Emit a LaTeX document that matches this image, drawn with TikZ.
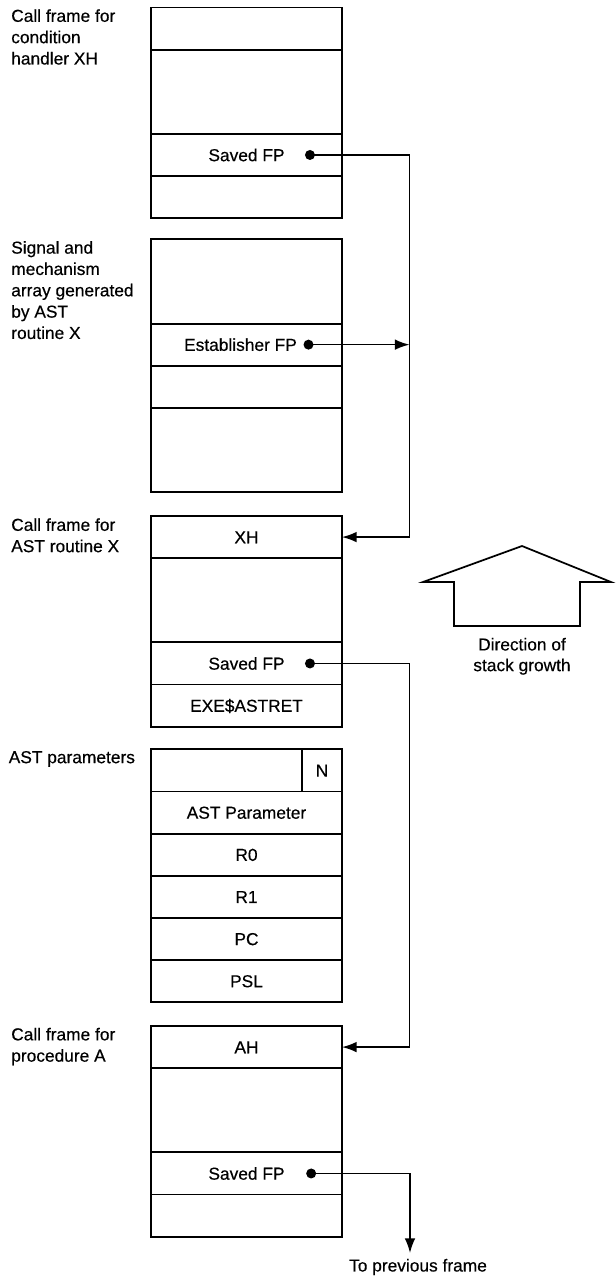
\documentclass[tikz,border=0pt]{standalone}
\usepackage{fontspec}
\setmainfont{Liberation Sans}[FakeBold=0.4]
\usetikzlibrary{positioning,arrows.meta}

\tikzset{
  cell/.style={draw, line width=1.4pt, minimum width=143.25pt, minimum height=31.6pt,
    inner sep=0pt, outer sep=0pt, text height=9.3pt, text depth=0pt,
    font=\fontsize{13}{16}\selectfont},
  tall/.style={cell, minimum height=63.2pt},
  note/.style={anchor=north west, align=left, inner sep=0pt, font=\fontsize{13}{16}\selectfont},
  fp/.style={circle, fill, inner sep=0pt, minimum size=7.5pt},
  link/.style={line width=1.2pt},
  tip/.style={-{Latex[length=11pt,width=8pt]}}
}

\begin{document}
\begin{tikzpicture}[x=0.75pt, y=-0.75pt]
    \useasboundingbox (0,0) rectangle (616,1278);
    \coordinate (rail) at (409.5,0);

    % call frame for XH
    \node[note] (lh) at (11,9) {Call frame for\\condition\\handler XH};
    \node[cell, anchor=north] (h1) at (246.5,7.5) {};
    \node[tall, below=0pt of h1] (h2) {};
    \node[cell, below=0pt of h2] (h3) {Saved FP};
    \node[cell, below=0pt of h3] (h4) {};
    \node[fp] (s1) at ([xshift=47.6pt]h3.center) {};

    % signal and mechanism array
    \node[note] (lm) at (11,240.8) {Signal and\\mechanism\\array generated\\by AST\\routine X};
    \node[tall, anchor=north] (m1) at (246.5,239.3) {};
    \node[cell, below=0pt of m1] (m2) {Establisher FP\hspace*{9pt}};
    \node[cell, below=0pt of m2] (m3) {};
    \node[tall, below=0pt of m3] (m4) {};
    \node[fp] (s2) at ([xshift=46.5pt]m2.center) {};

    % call frame for AST routine X
    \node[note] (lx) at (11,518) {Call frame for\\AST routine X};
    \node[cell, anchor=north] (x1) at (246.5,516) {XH};
    \node[tall, below=0pt of x1] (x2) {};
    \node[cell, below=0pt of x2] (x3) {Saved FP};
    \node[cell, below=0pt of x3] (x4) {EXE\$ASTRET};
    \node[fp] (s3) at ([xshift=47.6pt]x3.center) {};

    % AST parameters
    \node[note] (lp) at (8.5,750.8) {AST parameters};
    \node[cell, anchor=north] (p0) at (246.5,749.3) {};
    \node[cell, minimum width=30pt, anchor=north east] (n) at (p0.north east) {N};
    \foreach \t [count=\i, remember=\i as \j (initially 0)] in {AST Parameter, R0, R1, PC, PSL}
        \node[cell, below=0pt of p\j] (p\i) {\t};

    % call frame for procedure A
    \node[note] (la) at (11,1027.5) {Call frame for\\procedure A};
    \node[cell, anchor=north] (a1) at (246.5,1026) {AH};
    \node[tall, below=0pt of a1] (a2) {};
    \node[cell, below=0pt of a2] (a3) {Saved FP};
    \node[cell, below=0pt of a3] (a4) {};
    \node[fp] (s4) at ([xshift=48.5pt]a3.center) {};

    \draw[link, tip] (s1.center) -| (rail |- x1) -- (x1.east);
    \draw[link, tip] (s2.center) -- (s2 -| rail);
    \draw[link, tip] (s3.center) -| (rail |- a1) -- (a1.east);
    \coordinate (down) at (410,1253);
    \draw[link, tip] (s4.center) -| (down);
    \node[font=\fontsize{13}{16}\selectfont] (prev) at (418,1267) {To previous frame};

    \draw[line width=1.3pt] (423,582) -- (522,546) -- (611,582) -- (580,582) -- (580,626)
        -- (454,626) -- (454,582) -- cycle;
    \node[align=center, font=\fontsize{13}{15.5}\selectfont] (growth) at (522,656.3) {Direction of\\stack growth};
\end{tikzpicture}
\end{document}
